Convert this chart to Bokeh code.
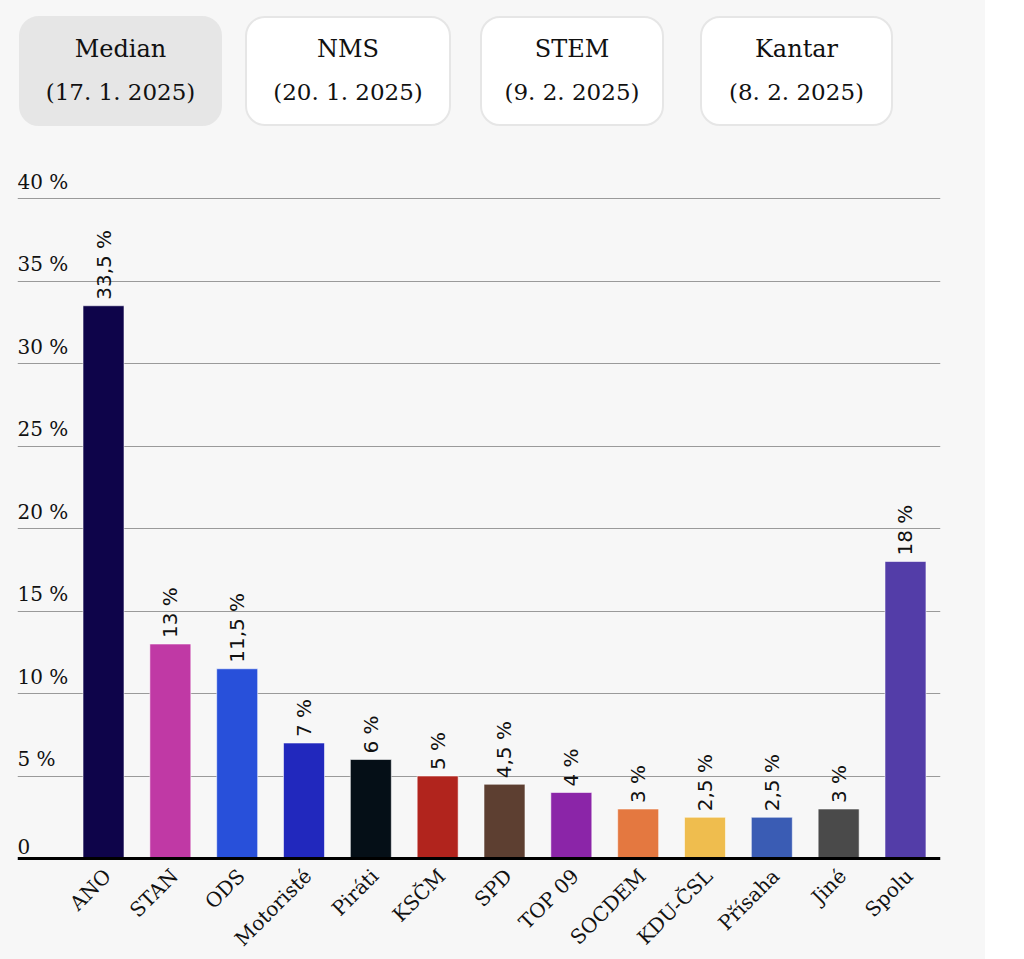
import math
from bokeh.plotting import figure
from bokeh.models import Range1d, FixedTicker, Div, ColumnDataSource, Span
from bokeh.layouts import column
from bokeh.core.properties import value
from bokeh.embed import file_html
from bokeh.resources import INLINE

# ---- data ----
parties = ["ANO", "STAN", "ODS", "Motoristé", "Piráti", "KSČM", "SPD", "TOP 09",
           "SOCDEM", "KDU-ČSL", "Přísaha", "Jiné", "Spolu"]
shares = [33.5, 13, 11.5, 7, 6, 5, 4.5, 4, 3, 2.5, 2.5, 3, 18]
share_labels = ["33,5 %", "13 %", "11,5 %", "7 %", "6 %", "5 %", "4,5 %", "4 %",
                "3 %", "2,5 %", "2,5 %", "3 %", "18 %"]
colors = ["#0e044a", "#c039a5", "#2850da", "#2128bd", "#050f17", "#b1241d", "#5d3f31",
          "#8b25a8", "#e47840", "#efbd4e", "#3a5cb4", "#4a4a4a", "#533da8"]
y_ticks = [0, 5, 10, 15, 20, 25, 30, 35, 40]
y_tick_labels = ["0", "5 %", "10 %", "15 %", "20 %", "25 %", "30 %", "35 %", "40 %"]
polls = ["Median", "NMS", "STEM", "Kantar"]
poll_dates = ["(17. 1. 2025)", "(20. 1. 2025)", "(9. 2. 2025)", "(8. 2. 2025)"]

BG = "#f7f7f7"
W = 985

# ---- buttons (HTML) ----
btn_left = [19, 245, 480, 700]
btn_width = [203, 206, 184, 193]
parts = []
for i, (name, date) in enumerate(zip(polls, poll_dates)):
    active = i == 0
    bg = "#e6e6e6" if active else "#ffffff"
    parts.append(
        f'<div style="position:absolute;left:{btn_left[i]}px;top:16px;width:{btn_width[i]}px;'
        f'height:110px;box-sizing:border-box;border-radius:20px;background:{bg};'
        f'border:2px solid #e6e6e6;'
        f'display:flex;flex-direction:column;justify-content:center;align-items:center;'
        f'font-family:\'DejaVu Serif\',serif;font-size:23px;line-height:43px;color:#111;">'
        f'<span style="font-size:24px">{name}</span><span>{date}</span></div>'
    )
html = (f'<div style="position:relative;width:{W}px;height:140px;background:{BG};">'
        + "".join(parts) + "</div>")
div = Div(text=html, width=W, height=140, margin=0)

# ---- chart ----
xs = list(range(len(parties)))
src = ColumnDataSource(dict(x=xs, y=shares, color=colors, label=share_labels,
                            name=parties, zero=[0] * len(parties)))

p = figure(width=W, height=819, output_backend="svg", toolbar_location=None,
           x_range=Range1d(-1.287, 12.524), y_range=Range1d(-6.12, 42.91),
           min_border_left=17, min_border_right=45, min_border_top=10, min_border_bottom=0,
           background_fill_color=BG, border_fill_color=BG, outline_line_color=None)

p.vbar(x="x", top="y", width=0.613, bottom=0, fill_color="color",
       line_color="#ffffff", line_alpha=0.55, line_width=1, source=src)

# value labels
p.text(x="x", y="y", text="label", angle=math.pi / 2, text_align="left",
       text_baseline="middle", y_offset=-6, text_font=value("DejaVu Sans"),
       text_font_size="20px", text_color="#111111", source=src)

# category labels (rotated 45°)
p.text(x="x", y="zero", text="name", angle=math.pi / 4, text_align="right",
       text_baseline="middle", x_offset=4, y_offset=14, text_font=value("DejaVu Serif"),
       text_font_size="20px", text_color="#111111", source=src)

# y tick labels above grid lines
ysrc = ColumnDataSource(dict(x=[-1.287] * len(y_ticks), y=y_ticks, t=y_tick_labels))
p.text(x="x", y="y", text="t", text_align="left", text_baseline="bottom", y_offset=-5,
       text_font=value("DejaVu Serif"), text_font_size="20px", text_color="#111111",
       source=ysrc)

p.xaxis.visible = False
p.yaxis.visible = False
p.xgrid.grid_line_color = None
p.ygrid.ticker = FixedTicker(ticks=y_ticks[1:])
p.ygrid.grid_line_color = "#9a9a9a"
p.ygrid.grid_line_width = 1

p.add_layout(Span(location=0, dimension="width", line_color="#000000", line_width=3))

layout = column(div, p, spacing=0, styles={"background-color": BG})
open("out.html", "w").write(file_html(layout, INLINE))
